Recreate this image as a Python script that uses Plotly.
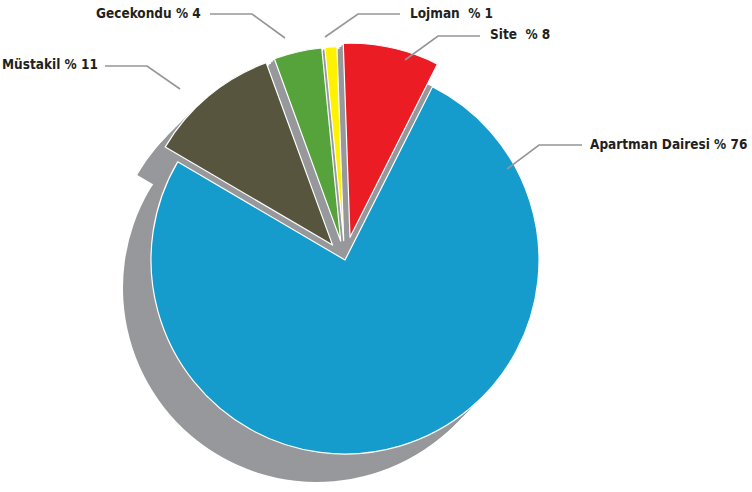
import numpy as np
import plotly.graph_objects as go

W, H = 752, 492

categories = ["Site", "Apartman Dairesi", "Müstakil", "Gecekondu", "Lojman"]
values = [8, 76, 11, 4, 1]
label_texts = ["Site  % 8", "Apartman Dairesi % 76", "Müstakil % 11", "Gecekondu % 4", "Lojman  % 1"]
colors = ["#ec1c24", "#159ccd", "#58553f", "#57a33b", "#fff200"]
pulls = [0.12, 0.0, 0.1, 0.1, 0.1]

CX, CY, R = 345, 260, 194
ROT = -2
SHADOW = "#97989b"
CLEAR = "rgba(0,0,0,0)"


def dom(cx, cy, half):
    x0 = max(0.0, (cx - half) / W)
    x1 = min(1.0, (cx + half) / W)
    y0 = max(0.0, 1 - (cy + half) / H)
    y1 = min(1.0, 1 - (cy - half) / H)
    return dict(x=[x0, x1], y=[y0, y1])


def pie(cols, domain, pull=0, line=0, lc="white"):
    return go.Pie(labels=categories, values=values, sort=False, direction="clockwise",
                  rotation=ROT, marker=dict(colors=cols, line=dict(color=lc, width=line)),
                  pull=pull, domain=domain, textinfo="none", hoverinfo="skip",
                  showlegend=False)


fig = go.Figure()

# pull vectors of each slice (derived from data)
total = sum(values)
cum = np.cumsum([0] + values[:-1])
mids = [np.deg2rad(ROT + 360 * (c + v / 2) / total) for c, v in zip(cum, values)]
pvec = [(p * R * np.sin(a), -p * R * np.cos(a)) for p, a in zip(pulls, mids)]

# extruded shadow layers (back to front)
steps = np.linspace(1, 0, 16)
for t in steps:
    dx, dy = -28 * t, 28 * t
    fig.add_trace(pie([SHADOW] * 5, dom(CX + dx, CY + dy, R)))
    for i, p in enumerate(pulls):
        if p > 0:
            cols = [CLEAR] * 5
            cols[i] = SHADOW
            fig.add_trace(pie(cols, dom(CX + dx + pvec[i][0], CY + dy + pvec[i][1], R)))

# main pie
fig.add_trace(pie(colors, dom(CX, CY, R * (1 + max(pulls))), pull=pulls, line=1.2))


def pp(x, y):
    return x / W, 1 - y / H


leaders = [
    # (label index, text x, text y, anchor, line points)
    (3, 203, 13, "right", [(210, 14), (252, 14), (285, 38)]),
    (2, 100, 64, "right", [(105, 66), (147, 66), (180, 89)]),
    (4, 408, 13, "left", [(325, 37), (358, 14), (400, 14)]),
    (0, 488, 34, "left", [(405, 60), (438, 36), (480, 36)]),
    (1, 588, 144, "left", [(507, 169), (539, 145), (582, 145)]),
]

shapes, annotations = [], []
for idx, tx, ty, anc, pts in leaders:
    path = ""
    for k, (x, y) in enumerate(pts):
        X, Y = pp(x, y)
        path += ("M" if k == 0 else " L") + f" {X:.5f} {Y:.5f}"
    shapes.append(dict(type="path", path=path, xref="paper", yref="paper",
                       line=dict(color="#939598", width=1.6)))
    X, Y = pp(tx, ty)
    annotations.append(dict(text=label_texts[idx], x=X, y=Y, xref="paper", yref="paper",
                            xanchor=anc, yanchor="middle", showarrow=False,
                            font=dict(family="DejaVu Sans Condensed, DejaVu Sans, sans-serif",
                                      size=13.5, color="#231f20", weight="bold")))

fig.update_layout(width=W, height=H, margin=dict(l=0, r=0, t=0, b=0),
                  paper_bgcolor="white", plot_bgcolor="white",
                  shapes=shapes, annotations=annotations)

fig.write_html("out.html", config={"displayModeBar": False},
               post_script="document.body.style.margin='0px';")
